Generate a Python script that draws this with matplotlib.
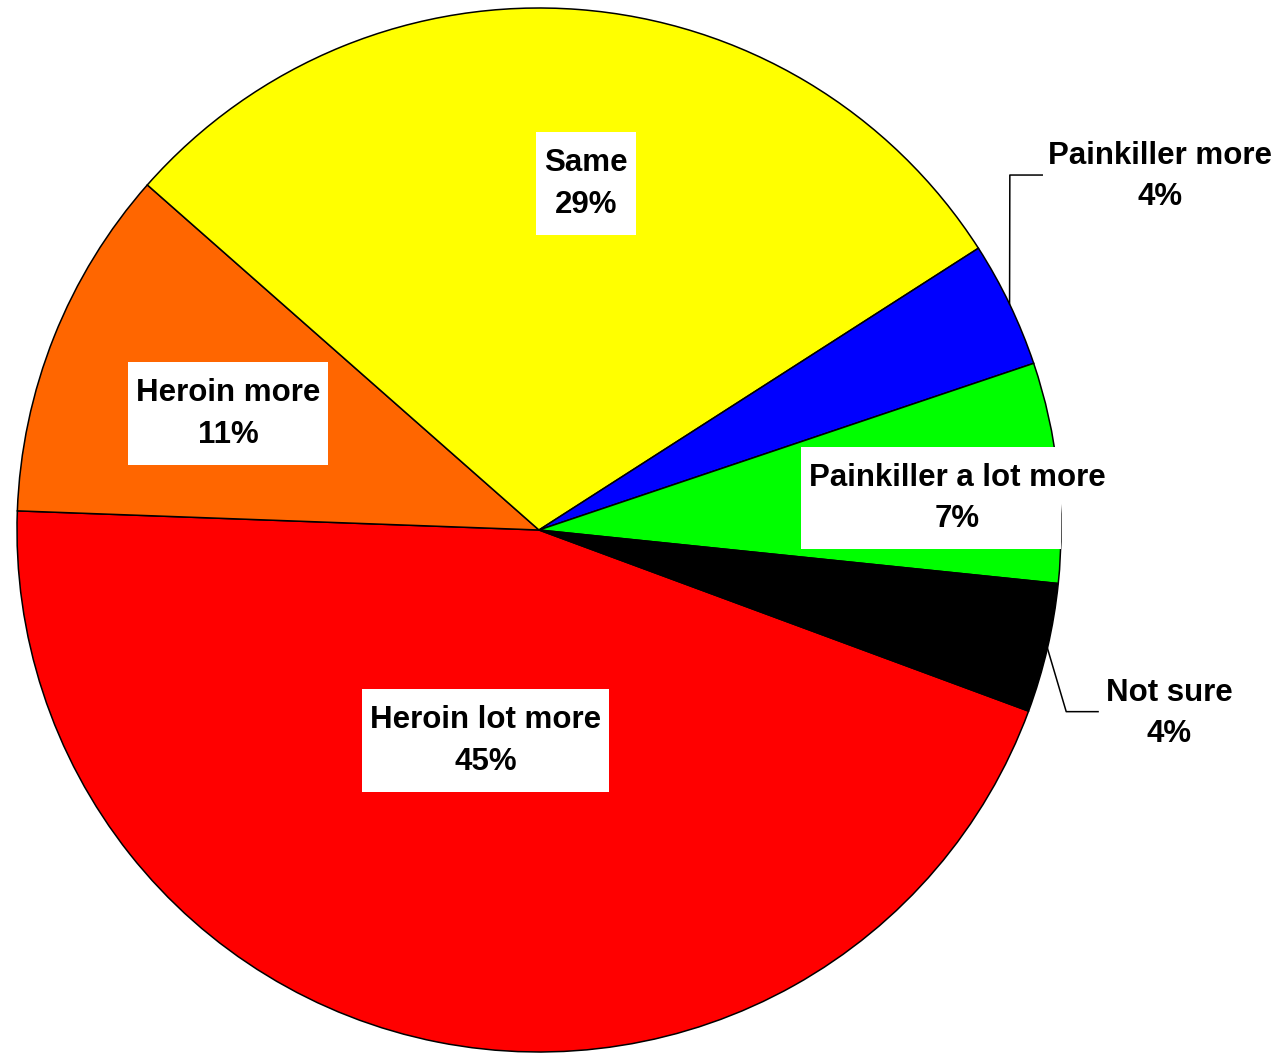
import matplotlib.pyplot as plt
from matplotlib.patches import Rectangle
import numpy as np

labels = ['Heroin lot more', 'Heroin more', 'Same', 'Painkiller more',
          'Painkiller a lot more', 'Not sure']
values = [44.9, 10.9, 29.4, 3.9, 6.8, 4.0]
colors = ['#FF0000', '#FF6600', '#FFFF00', '#0000FF', '#00FF00', '#000000']

# label centres in pie units (radius = 1)
label_pos = [(-0.102, -0.404), (-0.596, 0.222), (0.090, 0.663),
             (1.190, 0.677), (0.801, 0.061), (1.207, -0.351)]
outside = {3: (0.902, 0.964), 5: (1.010, 1.071)}  # elbow x, end x

fig = plt.figure(figsize=(12.8, 10.54), dpi=100)
ax = fig.add_axes([17 / 1280, 2 / 1054, 1044 / 1280, 1044 / 1054])

wedges, _ = ax.pie(values, colors=colors, startangle=-20.3, counterclock=False,
                   radius=1, wedgeprops=dict(edgecolor='black', linewidth=1.1))
ax.set_xlim(-1, 1)
ax.set_ylim(-1, 1)
ax.set_aspect('equal')
ax.axis('off')

total = sum(values)
boxed = []
for i, (lab, w) in enumerate(zip(labels, wedges)):
    pct = values[i] / total * 100
    x, y = label_pos[i]
    t = ax.text(x, y, f"{lab}\n{pct:.0f}%", ha='center', va='center',
                fontsize=22.5, fontweight='bold', family='Liberation Sans',
                linespacing=1.49, zorder=5)
    if i in outside:
        mid = np.deg2rad((w.theta1 + w.theta2) / 2)
        ex, end_x = outside[i]
        ax.plot([np.cos(mid), ex, end_x], [np.sin(mid), y + 0.003, y + 0.003],
                color='black', lw=1.1, clip_on=False)
    else:
        boxed.append(t)

# white boxes behind the inside labels
fig.canvas.draw()
inv = ax.transData.inverted()
for t in boxed:
    bb = t.get_window_extent()
    (x0, y0), (x1, y1) = inv.transform([(bb.x0 - 8, bb.y0 - 15),
                                        (bb.x1 + 8, bb.y1 + 16)])
    ax.add_patch(Rectangle((x0, y0), x1 - x0, y1 - y0, fc='white',
                           ec='none', zorder=4))

fig.savefig('out.png', dpi=100)
